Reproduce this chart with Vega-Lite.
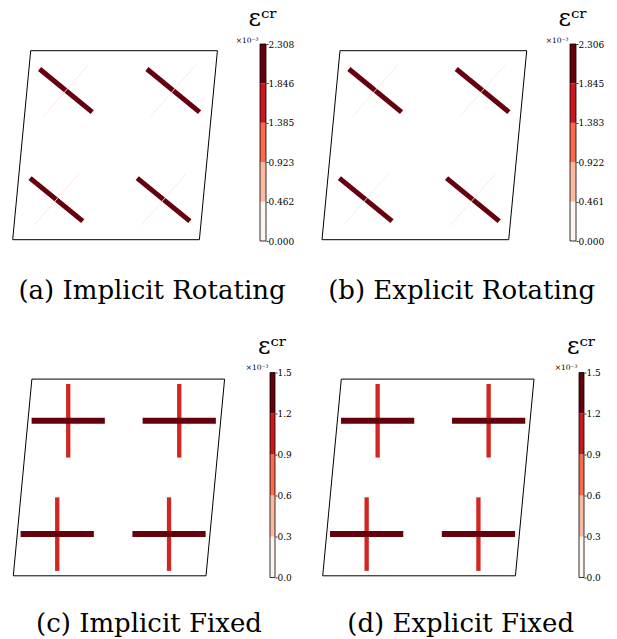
{
  "$schema": "https://vega.github.io/schema/vega-lite/v6.json",
  "background": "white",
  "padding": {"left": 0, "top": 7, "right": 0, "bottom": 0},
  "datasets": {
    "specimen": [
      {"corner": 0, "x": 0, "y": 0},
      {"corner": 1, "x": 1, "y": 0},
      {"corner": 2, "x": 1.0964, "y": 1},
      {"corner": 3, "x": 0.0964, "y": 1},
      {"corner": 4, "x": 0, "y": 0}
    ],
    "cracks": [
      {"panel": "a", "crack": "TL bar", "x": 0.144, "y": 0.903, "x2": 0.426, "y2": 0.675, "strain": 2.308},
      {"panel": "a", "crack": "TL weak", "x": 0.165, "y": 0.653, "x2": 0.406, "y2": 0.926, "strain": 0.15},
      {"panel": "a", "crack": "TR bar", "x": 0.719, "y": 0.903, "x2": 1.001, "y2": 0.675, "strain": 2.308},
      {"panel": "a", "crack": "TR weak", "x": 0.740, "y": 0.653, "x2": 0.981, "y2": 0.926, "strain": 0.15},
      {"panel": "a", "crack": "BL bar", "x": 0.093, "y": 0.326, "x2": 0.375, "y2": 0.098, "strain": 2.308},
      {"panel": "a", "crack": "BL weak", "x": 0.114, "y": 0.076, "x2": 0.355, "y2": 0.349, "strain": 0.15},
      {"panel": "a", "crack": "BR bar", "x": 0.667, "y": 0.326, "x2": 0.949, "y2": 0.098, "strain": 2.308},
      {"panel": "a", "crack": "BR weak", "x": 0.688, "y": 0.076, "x2": 0.929, "y2": 0.349, "strain": 0.15},
      {"panel": "b", "crack": "TL bar", "x": 0.144, "y": 0.903, "x2": 0.426, "y2": 0.675, "strain": 2.306},
      {"panel": "b", "crack": "TL weak", "x": 0.165, "y": 0.653, "x2": 0.406, "y2": 0.926, "strain": 0.15},
      {"panel": "b", "crack": "TR bar", "x": 0.719, "y": 0.903, "x2": 1.001, "y2": 0.675, "strain": 2.306},
      {"panel": "b", "crack": "TR weak", "x": 0.740, "y": 0.653, "x2": 0.981, "y2": 0.926, "strain": 0.15},
      {"panel": "b", "crack": "BL bar", "x": 0.093, "y": 0.326, "x2": 0.375, "y2": 0.098, "strain": 2.306},
      {"panel": "b", "crack": "BL weak", "x": 0.114, "y": 0.076, "x2": 0.355, "y2": 0.349, "strain": 0.15},
      {"panel": "b", "crack": "BR bar", "x": 0.667, "y": 0.326, "x2": 0.949, "y2": 0.098, "strain": 2.306},
      {"panel": "b", "crack": "BR weak", "x": 0.688, "y": 0.076, "x2": 0.929, "y2": 0.349, "strain": 0.15},
      {"panel": "c", "crack": "TL vertical", "x": 0.285, "y": 0.975, "x2": 0.285, "y2": 0.601, "strain": 1.08},
      {"panel": "c", "crack": "TL horizontal", "x": 0.095, "y": 0.788, "x2": 0.475, "y2": 0.788, "strain": 1.5},
      {"panel": "c", "crack": "TR vertical", "x": 0.861, "y": 0.975, "x2": 0.861, "y2": 0.601, "strain": 1.08},
      {"panel": "c", "crack": "TR horizontal", "x": 0.671, "y": 0.788, "x2": 1.051, "y2": 0.788, "strain": 1.5},
      {"panel": "c", "crack": "BL vertical", "x": 0.228, "y": 0.399, "x2": 0.228, "y2": 0.025, "strain": 1.08},
      {"panel": "c", "crack": "BL horizontal", "x": 0.038, "y": 0.212, "x2": 0.418, "y2": 0.212, "strain": 1.5},
      {"panel": "c", "crack": "BR vertical", "x": 0.808, "y": 0.399, "x2": 0.808, "y2": 0.025, "strain": 1.08},
      {"panel": "c", "crack": "BR horizontal", "x": 0.618, "y": 0.212, "x2": 0.998, "y2": 0.212, "strain": 1.5},
      {"panel": "d", "crack": "TL vertical", "x": 0.285, "y": 0.975, "x2": 0.285, "y2": 0.601, "strain": 1.08},
      {"panel": "d", "crack": "TL horizontal", "x": 0.095, "y": 0.788, "x2": 0.475, "y2": 0.788, "strain": 1.5},
      {"panel": "d", "crack": "TR vertical", "x": 0.861, "y": 0.975, "x2": 0.861, "y2": 0.601, "strain": 1.08},
      {"panel": "d", "crack": "TR horizontal", "x": 0.671, "y": 0.788, "x2": 1.051, "y2": 0.788, "strain": 1.5},
      {"panel": "d", "crack": "BL vertical", "x": 0.228, "y": 0.399, "x2": 0.228, "y2": 0.025, "strain": 1.08},
      {"panel": "d", "crack": "BL horizontal", "x": 0.038, "y": 0.212, "x2": 0.418, "y2": 0.212, "strain": 1.5},
      {"panel": "d", "crack": "BR vertical", "x": 0.808, "y": 0.399, "x2": 0.808, "y2": 0.025, "strain": 1.08},
      {"panel": "d", "crack": "BR horizontal", "x": 0.618, "y": 0.212, "x2": 0.998, "y2": 0.212, "strain": 1.5}
    ],
    "colorbar": [
      {"panel": "a", "level": 0, "lo": 0, "hi": 0.462},
      {"panel": "a", "level": 1, "lo": 0.462, "hi": 0.923},
      {"panel": "a", "level": 2, "lo": 0.923, "hi": 1.385},
      {"panel": "a", "level": 3, "lo": 1.385, "hi": 1.846},
      {"panel": "a", "level": 4, "lo": 1.846, "hi": 2.308},
      {"panel": "b", "level": 0, "lo": 0, "hi": 0.461},
      {"panel": "b", "level": 1, "lo": 0.461, "hi": 0.922},
      {"panel": "b", "level": 2, "lo": 0.922, "hi": 1.383},
      {"panel": "b", "level": 3, "lo": 1.383, "hi": 1.845},
      {"panel": "b", "level": 4, "lo": 1.845, "hi": 2.306},
      {"panel": "c", "level": 0, "lo": 0, "hi": 0.3},
      {"panel": "c", "level": 1, "lo": 0.3, "hi": 0.6},
      {"panel": "c", "level": 2, "lo": 0.6, "hi": 0.9},
      {"panel": "c", "level": 3, "lo": 0.9, "hi": 1.2},
      {"panel": "c", "level": 4, "lo": 1.2, "hi": 1.5},
      {"panel": "d", "level": 0, "lo": 0, "hi": 0.3},
      {"panel": "d", "level": 1, "lo": 0.3, "hi": 0.6},
      {"panel": "d", "level": 2, "lo": 0.6, "hi": 0.9},
      {"panel": "d", "level": 3, "lo": 0.9, "hi": 1.2},
      {"panel": "d", "level": 4, "lo": 1.2, "hi": 1.5}
    ]
  },
  "spacing": 30.5,
  "vconcat": [
    {
      "bounds": "flush",
      "spacing": 40,
      "resolve": {
        "scale": {"x": "independent", "y": "independent", "color": "independent", "strokeWidth": "independent"},
        "axis": {"x": "independent", "y": "independent"}
      },
      "hconcat": [
        {
          "width": 220, "height": 197,
          "title": {"text": "(a) Implicit Rotating", "orient": "bottom", "anchor": "middle", "frame": "group", "dx": 42, "offset": 36, "fontSize": 26},
          "layer": [
            {
              "data": {"name": "specimen"},
              "mark": {"type": "line", "color": "#000", "strokeWidth": 1, "strokeJoin": "miter"},
              "encoding": {
                "x": {"field": "x", "type": "quantitative", "scale": {"domain": [-0.068, 1.1103], "nice": false, "zero": false}, "axis": null},
                "y": {"field": "y", "type": "quantitative", "scale": {"domain": [-0.0069, 1.0354], "nice": false, "zero": false}, "axis": null},
                "order": {"field": "corner", "type": "quantitative"}
              }
            },
            {
              "data": {"name": "cracks"},
              "transform": [{"filter": "datum.panel == 'a'"}],
              "mark": {"type": "rule", "strokeCap": "butt"},
              "encoding": {
                "x": {"field": "x", "type": "quantitative", "scale": {"domain": [-0.068, 1.1103], "nice": false, "zero": false}, "axis": null},
                "y": {"field": "y", "type": "quantitative", "scale": {"domain": [-0.0069, 1.0354], "nice": false, "zero": false}, "axis": null},
                "x2": {"field": "x2"}, "y2": {"field": "y2"},
                "color": {"field": "strain", "type": "quantitative", "scale": {"type": "linear", "domain": [0, 0.577, 1.154, 1.731, 2.308], "range": ["#fff5f0", "#fcbba1", "#fb6a4a", "#cb181d", "#67000d"]}, "legend": null},
                "strokeWidth": {"field": "strain", "type": "quantitative", "scale": {"domain": [0, 2.308], "range": [0.6, 5]}, "legend": null}
              }
            }
          ]
        },
        {
          "width": 6, "height": 197,
          "data": {"name": "colorbar"},
          "transform": [{"filter": "datum.panel == 'a'"}],
          "title": {"text": "εᶜʳ", "orient": "top", "anchor": "middle", "frame": "group", "fontSize": 24, "offset": 5},
          "layer": [
            {
              "mark": {"type": "rect"},
              "encoding": {
                "y": {"field": "lo", "type": "quantitative", "scale": {"domain": [0, 2.308], "nice": false, "zero": false},
                  "axis": {"orient": "right", "values": [0, 0.462, 0.923, 1.385, 1.846, 2.308], "format": ".3f", "domain": false, "grid": false, "tickSize": 2, "tickColor": "#000", "tickWidth": 0.8, "labelFont": "DejaVu Serif", "labelFontSize": 9, "labelColor": "#000", "labelPadding": 0, "labelFlush": false, "labelOverlap": false, "labelBound": false, "title": "×10⁻³", "titleFont": "DejaVu Serif", "titleFontSize": 7.5, "titleFontWeight": "normal", "titleColor": "#000", "titleAngle": 0, "titleAlign": "right", "titleBaseline": "alphabetic", "titleX": -8, "titleY": -2}},
                "y2": {"field": "hi"},
                "color": {"field": "level", "type": "ordinal", "scale": {"domain": [0, 1, 2, 3, 4], "range": ["#fff5f0", "#fcbba1", "#fb6a4a", "#cb181d", "#67000d"]}, "legend": null}
              }
            },
            {
              "mark": {"type": "rect", "filled": false, "stroke": "#000", "strokeWidth": 0.8},
              "encoding": {
                "y": {"aggregate": "min", "field": "lo", "type": "quantitative",
                  "axis": {"orient": "right", "values": [0, 0.462, 0.923, 1.385, 1.846, 2.308], "format": ".3f", "domain": false, "grid": false, "tickSize": 2, "tickColor": "#000", "tickWidth": 0.8, "labelFont": "DejaVu Serif", "labelFontSize": 9, "labelColor": "#000", "labelPadding": 0, "labelFlush": false, "labelOverlap": false, "labelBound": false, "title": "×10⁻³", "titleFont": "DejaVu Serif", "titleFontSize": 7.5, "titleFontWeight": "normal", "titleColor": "#000", "titleAngle": 0, "titleAlign": "right", "titleBaseline": "alphabetic", "titleX": -8, "titleY": -2}},
                "y2": {"aggregate": "max", "field": "hi"}
              }
            }
          ]
        },
        {
          "width": 223.3, "height": 197,
          "title": {"text": "(b) Explicit Rotating", "orient": "bottom", "anchor": "middle", "frame": "group", "dx": 44, "offset": 36, "fontSize": 26},
          "layer": [
            {
              "data": {"name": "specimen"},
              "mark": {"type": "line", "color": "#000", "strokeWidth": 1, "strokeJoin": "miter"},
              "encoding": {
                "x": {"field": "x", "type": "quantitative", "scale": {"domain": [-0.0857, 1.1103], "nice": false, "zero": false}, "axis": null},
                "y": {"field": "y", "type": "quantitative", "scale": {"domain": [-0.0069, 1.0354], "nice": false, "zero": false}, "axis": null},
                "order": {"field": "corner", "type": "quantitative"}
              }
            },
            {
              "data": {"name": "cracks"},
              "transform": [{"filter": "datum.panel == 'b'"}],
              "mark": {"type": "rule", "strokeCap": "butt"},
              "encoding": {
                "x": {"field": "x", "type": "quantitative", "scale": {"domain": [-0.0857, 1.1103], "nice": false, "zero": false}, "axis": null},
                "y": {"field": "y", "type": "quantitative", "scale": {"domain": [-0.0069, 1.0354], "nice": false, "zero": false}, "axis": null},
                "x2": {"field": "x2"}, "y2": {"field": "y2"},
                "color": {"field": "strain", "type": "quantitative", "scale": {"type": "linear", "domain": [0, 0.5765, 1.153, 1.7295, 2.306], "range": ["#fff5f0", "#fcbba1", "#fb6a4a", "#cb181d", "#67000d"]}, "legend": null},
                "strokeWidth": {"field": "strain", "type": "quantitative", "scale": {"domain": [0, 2.306], "range": [0.6, 5]}, "legend": null}
              }
            }
          ]
        },
        {
          "width": 6, "height": 197,
          "data": {"name": "colorbar"},
          "transform": [{"filter": "datum.panel == 'b'"}],
          "title": {"text": "εᶜʳ", "orient": "top", "anchor": "middle", "frame": "group", "fontSize": 24, "offset": 5},
          "layer": [
            {
              "mark": {"type": "rect"},
              "encoding": {
                "y": {"field": "lo", "type": "quantitative", "scale": {"domain": [0, 2.306], "nice": false, "zero": false},
                  "axis": {"orient": "right", "values": [0, 0.461, 0.922, 1.383, 1.845, 2.306], "format": ".3f", "domain": false, "grid": false, "tickSize": 2, "tickColor": "#000", "tickWidth": 0.8, "labelFont": "DejaVu Serif", "labelFontSize": 9, "labelColor": "#000", "labelPadding": 0, "labelFlush": false, "labelOverlap": false, "labelBound": false, "title": "×10⁻³", "titleFont": "DejaVu Serif", "titleFontSize": 7.5, "titleFontWeight": "normal", "titleColor": "#000", "titleAngle": 0, "titleAlign": "right", "titleBaseline": "alphabetic", "titleX": -8, "titleY": -2}},
                "y2": {"field": "hi"},
                "color": {"field": "level", "type": "ordinal", "scale": {"domain": [0, 1, 2, 3, 4], "range": ["#fff5f0", "#fcbba1", "#fb6a4a", "#cb181d", "#67000d"]}, "legend": null}
              }
            },
            {
              "mark": {"type": "rect", "filled": false, "stroke": "#000", "strokeWidth": 0.8},
              "encoding": {
                "y": {"aggregate": "min", "field": "lo", "type": "quantitative",
                  "axis": {"orient": "right", "values": [0, 0.461, 0.922, 1.383, 1.845, 2.306], "format": ".3f", "domain": false, "grid": false, "tickSize": 2, "tickColor": "#000", "tickWidth": 0.8, "labelFont": "DejaVu Serif", "labelFontSize": 9, "labelColor": "#000", "labelPadding": 0, "labelFlush": false, "labelOverlap": false, "labelBound": false, "title": "×10⁻³", "titleFont": "DejaVu Serif", "titleFontSize": 7.5, "titleFontWeight": "normal", "titleColor": "#000", "titleAngle": 0, "titleAlign": "right", "titleBaseline": "alphabetic", "titleX": -8, "titleY": -2}},
                "y2": {"aggregate": "max", "field": "hi"}
              }
            }
          ]
        }
      ]
    },
    {
      "bounds": "flush",
      "spacing": 40,
      "resolve": {
        "scale": {"x": "independent", "y": "independent", "color": "independent", "strokeWidth": "independent"},
        "axis": {"x": "independent", "y": "independent"}
      },
      "hconcat": [
        {
          "width": 230, "height": 205,
          "title": {"text": "(c) Implicit Fixed", "orient": "bottom", "anchor": "middle", "frame": "group", "dx": 34, "offset": 33, "fontSize": 26},
          "layer": [
            {
              "data": {"name": "specimen"},
              "mark": {"type": "line", "color": "#000", "strokeWidth": 1, "strokeJoin": "miter"},
              "encoding": {
                "x": {"field": "x", "type": "quantitative", "scale": {"domain": [-0.069, 1.1244], "nice": false, "zero": false}, "axis": null},
                "y": {"field": "y", "type": "quantitative", "scale": {"domain": [-0.0086, 1.0336], "nice": false, "zero": false}, "axis": null},
                "order": {"field": "corner", "type": "quantitative"}
              }
            },
            {
              "data": {"name": "cracks"},
              "transform": [{"filter": "datum.panel == 'c'"}],
              "mark": {"type": "rule", "strokeCap": "butt"},
              "encoding": {
                "x": {"field": "x", "type": "quantitative", "scale": {"domain": [-0.069, 1.1244], "nice": false, "zero": false}, "axis": null},
                "y": {"field": "y", "type": "quantitative", "scale": {"domain": [-0.0086, 1.0336], "nice": false, "zero": false}, "axis": null},
                "x2": {"field": "x2"}, "y2": {"field": "y2"},
                "color": {"field": "strain", "type": "quantitative", "scale": {"type": "linear", "domain": [0, 0.375, 0.75, 1.125, 1.5], "range": ["#fff5f0", "#fcbba1", "#fb6a4a", "#cb181d", "#67000d"]}, "legend": null},
                "strokeWidth": {"field": "strain", "type": "quantitative", "scale": {"domain": [0, 1.5], "range": [0, 6]}, "legend": null}
              }
            }
          ]
        },
        {
          "width": 5, "height": 205,
          "data": {"name": "colorbar"},
          "transform": [{"filter": "datum.panel == 'c'"}],
          "title": {"text": "εᶜʳ", "orient": "top", "anchor": "middle", "frame": "group", "fontSize": 24, "offset": 5},
          "layer": [
            {
              "mark": {"type": "rect"},
              "encoding": {
                "y": {"field": "lo", "type": "quantitative", "scale": {"domain": [0, 1.5], "nice": false, "zero": false},
                  "axis": {"orient": "right", "values": [0, 0.3, 0.6, 0.9, 1.2, 1.5], "format": ".1f", "domain": false, "grid": false, "tickSize": 2, "tickColor": "#000", "tickWidth": 0.8, "labelFont": "DejaVu Serif", "labelFontSize": 9, "labelColor": "#000", "labelPadding": 0, "labelFlush": false, "labelOverlap": false, "labelBound": false, "title": "×10⁻³", "titleFont": "DejaVu Serif", "titleFontSize": 7.5, "titleFontWeight": "normal", "titleColor": "#000", "titleAngle": 0, "titleAlign": "right", "titleBaseline": "alphabetic", "titleX": -7, "titleY": -3}},
                "y2": {"field": "hi"},
                "color": {"field": "level", "type": "ordinal", "scale": {"domain": [0, 1, 2, 3, 4], "range": ["#fff5f0", "#fcbba1", "#fb6a4a", "#cb181d", "#67000d"]}, "legend": null}
              }
            },
            {
              "mark": {"type": "rect", "filled": false, "stroke": "#000", "strokeWidth": 0.8},
              "encoding": {
                "y": {"aggregate": "min", "field": "lo", "type": "quantitative",
                  "axis": {"orient": "right", "values": [0, 0.3, 0.6, 0.9, 1.2, 1.5], "format": ".1f", "domain": false, "grid": false, "tickSize": 2, "tickColor": "#000", "tickWidth": 0.8, "labelFont": "DejaVu Serif", "labelFontSize": 9, "labelColor": "#000", "labelPadding": 0, "labelFlush": false, "labelOverlap": false, "labelBound": false, "title": "×10⁻³", "titleFont": "DejaVu Serif", "titleFontSize": 7.5, "titleFontWeight": "normal", "titleColor": "#000", "titleAngle": 0, "titleAlign": "right", "titleBaseline": "alphabetic", "titleX": -7, "titleY": -3}},
                "y2": {"aggregate": "max", "field": "hi"}
              }
            }
          ]
        },
        {
          "width": 223.3, "height": 205,
          "title": {"text": "(d) Explicit Fixed", "orient": "bottom", "anchor": "middle", "frame": "group", "dx": 34, "offset": 33, "fontSize": 26},
          "layer": [
            {
              "data": {"name": "specimen"},
              "mark": {"type": "line", "color": "#000", "strokeWidth": 1, "strokeJoin": "miter"},
              "encoding": {
                "x": {"field": "x", "type": "quantitative", "scale": {"domain": [-0.040, 1.1187], "nice": false, "zero": false}, "axis": null},
                "y": {"field": "y", "type": "quantitative", "scale": {"domain": [-0.0086, 1.0336], "nice": false, "zero": false}, "axis": null},
                "order": {"field": "corner", "type": "quantitative"}
              }
            },
            {
              "data": {"name": "cracks"},
              "transform": [{"filter": "datum.panel == 'd'"}],
              "mark": {"type": "rule", "strokeCap": "butt"},
              "encoding": {
                "x": {"field": "x", "type": "quantitative", "scale": {"domain": [-0.040, 1.1187], "nice": false, "zero": false}, "axis": null},
                "y": {"field": "y", "type": "quantitative", "scale": {"domain": [-0.0086, 1.0336], "nice": false, "zero": false}, "axis": null},
                "x2": {"field": "x2"}, "y2": {"field": "y2"},
                "color": {"field": "strain", "type": "quantitative", "scale": {"type": "linear", "domain": [0, 0.375, 0.75, 1.125, 1.5], "range": ["#fff5f0", "#fcbba1", "#fb6a4a", "#cb181d", "#67000d"]}, "legend": null},
                "strokeWidth": {"field": "strain", "type": "quantitative", "scale": {"domain": [0, 1.5], "range": [0, 6]}, "legend": null}
              }
            }
          ]
        },
        {
          "width": 5, "height": 205,
          "data": {"name": "colorbar"},
          "transform": [{"filter": "datum.panel == 'd'"}],
          "title": {"text": "εᶜʳ", "orient": "top", "anchor": "middle", "frame": "group", "fontSize": 24, "offset": 5},
          "layer": [
            {
              "mark": {"type": "rect"},
              "encoding": {
                "y": {"field": "lo", "type": "quantitative", "scale": {"domain": [0, 1.5], "nice": false, "zero": false},
                  "axis": {"orient": "right", "values": [0, 0.3, 0.6, 0.9, 1.2, 1.5], "format": ".1f", "domain": false, "grid": false, "tickSize": 2, "tickColor": "#000", "tickWidth": 0.8, "labelFont": "DejaVu Serif", "labelFontSize": 9, "labelColor": "#000", "labelPadding": 0, "labelFlush": false, "labelOverlap": false, "labelBound": false, "title": "×10⁻³", "titleFont": "DejaVu Serif", "titleFontSize": 7.5, "titleFontWeight": "normal", "titleColor": "#000", "titleAngle": 0, "titleAlign": "right", "titleBaseline": "alphabetic", "titleX": -7, "titleY": -3}},
                "y2": {"field": "hi"},
                "color": {"field": "level", "type": "ordinal", "scale": {"domain": [0, 1, 2, 3, 4], "range": ["#fff5f0", "#fcbba1", "#fb6a4a", "#cb181d", "#67000d"]}, "legend": null}
              }
            },
            {
              "mark": {"type": "rect", "filled": false, "stroke": "#000", "strokeWidth": 0.8},
              "encoding": {
                "y": {"aggregate": "min", "field": "lo", "type": "quantitative",
                  "axis": {"orient": "right", "values": [0, 0.3, 0.6, 0.9, 1.2, 1.5], "format": ".1f", "domain": false, "grid": false, "tickSize": 2, "tickColor": "#000", "tickWidth": 0.8, "labelFont": "DejaVu Serif", "labelFontSize": 9, "labelColor": "#000", "labelPadding": 0, "labelFlush": false, "labelOverlap": false, "labelBound": false, "title": "×10⁻³", "titleFont": "DejaVu Serif", "titleFontSize": 7.5, "titleFontWeight": "normal", "titleColor": "#000", "titleAngle": 0, "titleAlign": "right", "titleBaseline": "alphabetic", "titleX": -7, "titleY": -3}},
                "y2": {"aggregate": "max", "field": "hi"}
              }
            }
          ]
        }
      ]
    }
  ],
  "resolve": {
    "scale": {"x": "independent", "y": "independent", "color": "independent", "strokeWidth": "independent"},
    "axis": {"x": "independent", "y": "independent"}
  },
  "config": {
    "view": {"stroke": null},
    "title": {"font": "DejaVu Serif", "fontWeight": "normal", "color": "#000"}
  }
}
